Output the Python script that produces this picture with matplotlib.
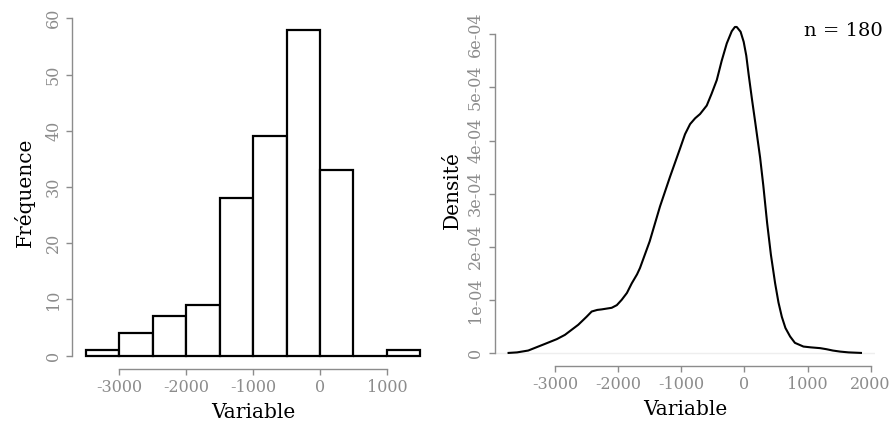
import numpy as np
import matplotlib
matplotlib.use("Agg")
import matplotlib.pyplot as plt

# histogram (bins of 500)
bin_edges = [-3500, -3000, -2500, -2000, -1500, -1000, -500, 0, 500, 1000, 1500]
counts = [1, 4, 7, 9, 28, 39, 58, 33, 0, 1]

# density curve (density in units of 1e-4)
dens_x = [-3734, -3600, -3423, -3158, -2970, -2842, -2631, -2500, -2418, -2330,
          -2260, -2101, -2020, -1943, -1860, -1784, -1700, -1653, -1500, -1336,
          -1177, -1019, -940, -860, -780, -702, -596, -520, -437, -360,
          -279, -200, -150, -121, -60, -11, 30, 68, 120, 170,
          249, 300, 360, 420, 487, 540, 593, 650, 724, 800,
          935, 1050, 1200, 1300, 1400, 1517, 1650, 1846]
dens_y = [0, 0.01, 0.045, 0.17, 0.26, 0.34, 0.53, 0.68, 0.78, 0.81,
          0.82, 0.85, 0.90, 1.0, 1.13, 1.31, 1.48, 1.60, 2.1, 2.76,
          3.32, 3.85, 4.12, 4.31, 4.42, 4.50, 4.66, 4.88, 5.14, 5.50,
          5.83, 6.06, 6.14, 6.14, 6.05, 5.86, 5.60, 5.24, 4.78, 4.36,
          3.68, 3.15, 2.45, 1.85, 1.31, 0.95, 0.68, 0.47, 0.31, 0.19,
          0.12, 0.105, 0.09, 0.07, 0.045, 0.025, 0.01, 0]
n_obs = 180

hist_xticks = [-3000, -2000, -1000, 0, 1000]
hist_yticks = [0, 10, 20, 30, 40, 50, 60]
dens_xticks = [-3000, -2000, -1000, 0, 1000, 2000]
dens_yticks = [0, 1, 2, 3, 4, 5, 6]
dens_ylabels = ["0", "1e-04", "2e-04", "3e-04", "4e-04", "5e-04", "6e-04"]

plt.rcParams['font.family'] = ['DejaVu Serif']
plt.rcParams['axes.unicode_minus'] = False
grey = '#8c8c8c'

fig = plt.figure(figsize=(8.96, 4.28), dpi=100)


def r_axes(ax):
    for s in ['top', 'right']:
        ax.spines[s].set_visible(False)
    for s in ['left', 'bottom']:
        ax.spines[s].set_color(grey)
        ax.spines[s].set_linewidth(1.0)
    ax.tick_params(colors=grey, labelcolor=grey, length=4, width=1.0, labelsize=11.5)
    ax.tick_params(axis='y', labelrotation=90)
    for lab in ax.get_yticklabels():
        lab.set_va('center')


# left: histogram
ax1 = fig.add_axes([0.0809, 0.1386, 0.4032, 0.8229])
widths = np.diff(bin_edges)
ax1.bar(bin_edges[:-1], counts, width=widths, align='edge',
        facecolor='white', edgecolor='black', linewidth=1.6)
ax1.set_xlim(-3700, 1700)
ax1.set_ylim(-2.32, 60.32)
ax1.set_xticks(hist_xticks)
ax1.set_yticks(hist_yticks)
ax1.spines['bottom'].set_bounds(-3000, 1000)
ax1.spines['left'].set_bounds(0, 60)
r_axes(ax1)
ax1.set_xlabel('Variable', fontsize=14.5, labelpad=5)
ax1.set_ylabel('Fréquence', fontsize=14.5, labelpad=7)

# right: density
ax2 = fig.add_axes([0.5519, 0.1449, 0.4247, 0.8231])
ax2.axhline(0, color='#eeeeee', linewidth=1.0, zorder=0)
ax2.plot(dens_x, dens_y, color='black', linewidth=1.5)
ax2.set_xlim(-3957, 2069)
ax2.set_ylim(-0.246, 6.39)
ax2.set_xticks(dens_xticks)
ax2.set_yticks(dens_yticks)
ax2.set_yticklabels(dens_ylabels)
ax2.spines['bottom'].set_bounds(-3000, 2000)
ax2.spines['left'].set_bounds(0, 6)
r_axes(ax2)
ax2.set_xlabel('Variable', fontsize=14.5, labelpad=5)
ax2.set_ylabel('Densité', fontsize=14.5, labelpad=4)
ax2.text(1.02, 0.95, 'n = %d' % n_obs, transform=ax2.transAxes,
         ha='right', va='center', fontsize=14, color='black')

fig.savefig('out.png', dpi=100)
